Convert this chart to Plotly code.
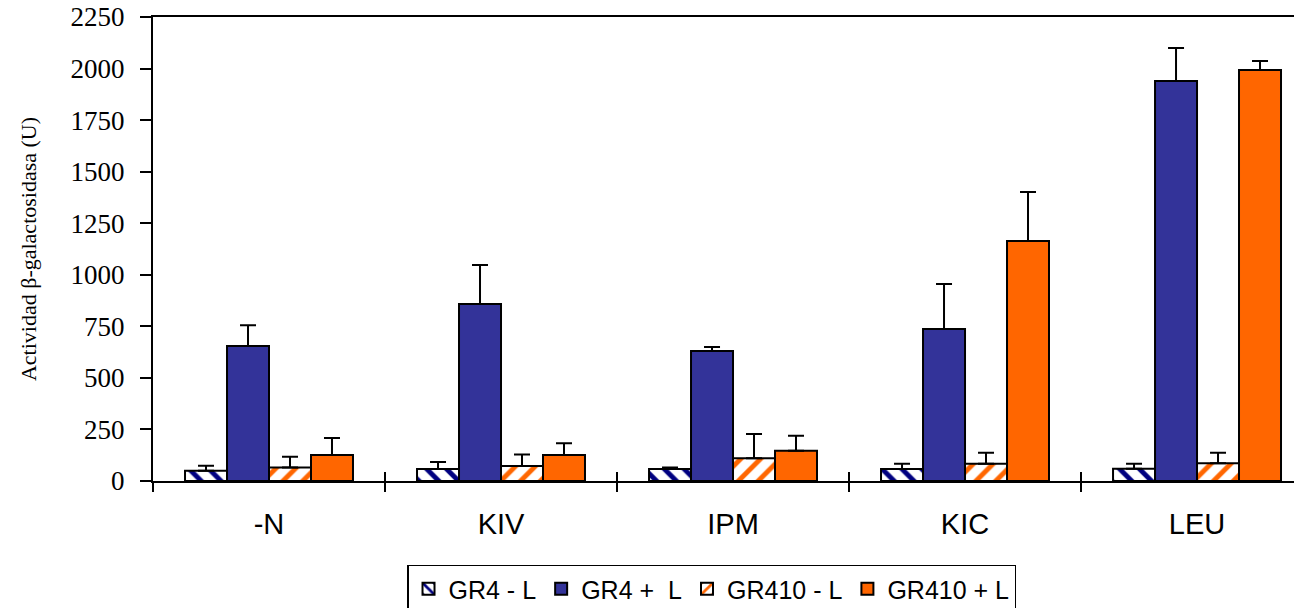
import plotly.graph_objects as go

categories = ["-N", "KIV", "IPM", "KIC", "LEU"]
gr4_minus = [50, 58, 58, 58, 60]
gr4_minus_err = [24, 34, 8, 26, 24]
gr4_plus = [655, 858, 630, 737, 1940]
gr4_plus_err = [100, 190, 20, 218, 160]
gr410_minus = [65, 73, 110, 84, 86]
gr410_minus_err = [53, 56, 118, 53, 51]
gr410_plus = [126, 126, 147, 1164, 1993]
gr410_plus_err = [83, 57, 73, 237, 44]
y_ticks = [0, 250, 500, 750, 1000, 1250, 1500, 1750, 2000, 2250]

BLUE = "#333399"
ORANGE = "#FF6600"
NAVY = "#000080"


def err(a):
    return dict(type="data", array=a, arrayminus=[0] * len(a), symmetric=False,
                color="black", thickness=2, width=8)


fig = go.Figure()
fig.add_bar(x=categories, y=gr4_minus, name="GR4 - L", error_y=err(gr4_minus_err),
            marker=dict(color="white", line=dict(color="black", width=2),
                        pattern=dict(shape="\\", fgcolor=NAVY, bgcolor="white",
                                     size=14, solidity=0.35, fillmode="replace")))
fig.add_bar(x=categories, y=gr4_plus, name="GR4 +  L", error_y=err(gr4_plus_err),
            marker=dict(color=BLUE, line=dict(color="black", width=2)))
fig.add_bar(x=categories, y=gr410_minus, name="GR410 - L", error_y=err(gr410_minus_err),
            marker=dict(color="white", line=dict(color="black", width=2),
                        pattern=dict(shape="/", fgcolor=ORANGE, bgcolor="white",
                                     size=14, solidity=0.35, fillmode="replace")))
fig.add_bar(x=categories, y=gr410_plus, name="GR410 + L", error_y=err(gr410_plus_err),
            marker=dict(color=ORANGE, line=dict(color="black", width=2)))

# helper trace for the inner tick overlay axis
fig.add_scatter(x=[0], y=[0], xaxis="x2", mode="markers", marker=dict(opacity=0),
                showlegend=False, hoverinfo="skip")

fig.update_layout(
    width=1294, height=608,
    margin=dict(l=153, r=0, t=17, b=127, autoexpand=False),
    paper_bgcolor="white", plot_bgcolor="white",
    barmode="group", bargap=0.276, bargroupgap=0,
    font=dict(family="Liberation Sans", color="black"),
    showlegend=True,
    legend=dict(orientation="h", x=0.4895, xanchor="center", y=-0.18, yanchor="top",
                bordercolor="black", borderwidth=1.5,
                font=dict(family="Liberation Sans", size=25, color="black"),
                traceorder="normal", itemwidth=30),
    xaxis=dict(type="category", categoryorder="array", categoryarray=categories,
               range=[-0.5, 4.418], tickson="boundaries", ticks="outside",
               ticklen=9, tickwidth=2, tickcolor="black",
               showline=True, linecolor="black", linewidth=2, mirror=True,
               showgrid=False, zeroline=False, ticklabelstandoff=16,
               automargin=False,
               tickfont=dict(family="Liberation Sans", size=29, color="black")),
    xaxis2=dict(overlaying="x", anchor="y", range=[-0.5, 4.418],
                tickvals=[0.5, 1.5, 2.5, 3.5], ticks="inside", ticklen=9,
                tickwidth=2, tickcolor="black", showticklabels=False,
                showgrid=False, zeroline=False, showline=False, side="bottom"),
    yaxis=dict(range=[0, 2250], tickvals=y_ticks, ticks="outside", ticklen=11,
               tickwidth=2, tickcolor="black", showline=True, linecolor="black",
               linewidth=2, showgrid=False, zeroline=False, ticklabelstandoff=10,
               automargin=False,
               tickfont=dict(family="Liberation Serif", size=27, color="black"),
               title=dict(text="Actividad β-galactosidasa (U)", standoff=28,
                          font=dict(family="Liberation Serif", size=22, color="black"))),
)

fig.write_html("out.html")
